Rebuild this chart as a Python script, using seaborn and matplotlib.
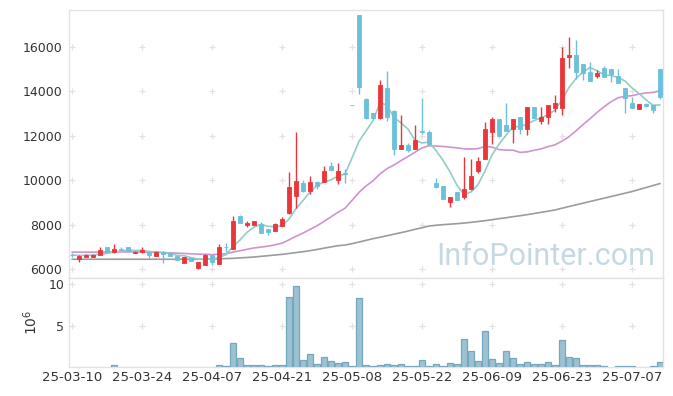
import numpy as np
import pandas as pd
import matplotlib
matplotlib.use("Agg")
import matplotlib.pyplot as plt
import seaborn as sns

# ---------------- data ----------------
tick_labels = ["25-03-10", "25-03-24", "25-04-07", "25-04-21", "25-05-08",
               "25-05-22", "25-06-09", "25-06-23", "25-07-07"]
tick_index = [0, 10, 20, 30, 40, 50, 60, 70, 80]

opens = [6645, 6440, 6545, 6545, 6636, 6985, 6788, 6880, 6985, 6742,
         6757, 6788, 6591, 6788, 6712, 6591, 6288, 6485, 6030, 6194,
         6627, 6239, 6995, 6896, 8373, 7985, 7985, 8030, 7791, 7716,
         7940, 8522, 9269, 9881, 9508, 9940, 9940, 10657, 10000, 10330,
         13390, 17439, 13674, 13039, 12782, 14173, 13130, 11421, 11588, 11421,
         12205, 12162, 9864, 9739, 9003, 9453, 9258, 9589, 10429, 10970,
         12186, 12757, 12486, 12321, 12832, 12321, 13297, 12682, 12832, 13267,
         13267, 15565, 15640, 15219, 14889, 14709, 15039, 15009, 14694, 14153,
         13492, 13222, 13417, 13387, 15009]
highs = [6720, 6620, 6680, 6680, 6970, 7000, 7136, 6985, 7000, 6800,
         6985, 6800, 6800, 6830, 6730, 6600, 6550, 6500, 6320, 6690,
         6640, 7105, 7164, 8403, 8450, 8180, 8160, 8130, 7800, 8090,
         8358, 10373, 12194, 10030, 10179, 9950, 10650, 10800, 10756, 10484,
         13390, 17439, 13690, 13050, 14536, 14899, 13150, 12933, 11690, 12480,
         13704, 12270, 10080, 9750, 9260, 9470, 11030, 10940, 11060, 12637,
         12850, 12770, 13492, 12770, 12850, 13310, 13310, 13300, 13400, 13823,
         15985, 16435, 16315, 15230, 15340, 14970, 15160, 15020, 14995, 14170,
         13763, 13430, 13490, 13400, 15020]
lows = [6560, 6330, 6520, 6520, 6620, 6780, 6700, 6790, 6800, 6730,
        6740, 6500, 6580, 6288, 6570, 6400, 6280, 6370, 6020, 6180,
        6194, 6230, 6776, 6880, 8060, 7880, 7970, 7610, 7552, 7700,
        7930, 8500, 8746, 9490, 9390, 9600, 9930, 10440, 9819, 9879,
        13390, 13900, 12770, 12770, 12770, 12650, 11119, 11400, 11250, 11400,
        12090, 11620, 9670, 9150, 8808, 9110, 9153, 9570, 10310, 10950,
        11630, 11960, 12220, 11660, 12066, 12030, 12800, 12520, 12531, 13087,
        12937, 15039, 14544, 14500, 14470, 14590, 14650, 14438, 14380, 13012,
        13250, 13200, 13280, 13012, 13658]
closes = [6630, 6590, 6636, 6636, 6864, 6788, 6909, 6864, 6818, 6788,
          6848, 6621, 6788, 6667, 6591, 6409, 6530, 6379, 6303, 6627,
          6328, 6985, 6985, 8149, 8075, 8075, 8149, 7627, 7672, 8015,
          8254, 9672, 9985, 9508, 9925, 9731, 10433, 10478, 10408, 10302,
          13390, 14188, 12782, 12782, 14309, 12827, 11421, 11588, 11376, 11814,
          12185, 11633, 9682, 9168, 9243, 9123, 9604, 10189, 10850, 12291,
          12757, 12006, 12231, 12757, 12321, 13297, 12817, 12862, 13387, 13492,
          15505, 15640, 14889, 14844, 14484, 14829, 14664, 14784, 14394, 13688,
          13267, 13417, 13342, 13177, 13763]
volumes_m = [0, 0, 0, 0, 0, 0, 0.28, 0, 0, 0,
             0, 0, 0, 0, 0, 0, 0, 0, 0, 0,
             0, 0.36, 0.24, 2.98, 1.19, 0.36, 0.36, 0.36, 0.24, 0.36,
             0.36, 8.45, 9.76, 0.95, 1.67, 0.48, 1.31, 0.83, 0.60, 0.71,
             0.24, 8.33, 0.36, 0.24, 0.36, 0.48, 0.36, 0.48, 0.24, 0.24,
             0.95, 0.24, 0.48, 0.24, 0.60, 0.48, 3.45, 2.02, 0.83, 4.40,
             1.07, 0.60, 2.02, 1.19, 0.48, 0.71, 0.48, 0.48, 0.71, 0.36,
             3.33, 1.35, 1.19, 0.36, 0.36, 0.36, 0.24, 0, 0.24, 0.24,
             0.24, 0, 0, 0.24, 0.71]
ma20_head = [6760, 6760, 6760, 6760, 6760, 6765, 6770, 6770, 6770, 6770,
             6765, 6760, 6750, 6740, 6730, 6715, 6700, 6685, 6670]
ma60 = [6440, 6440, 6440, 6440, 6440, 6440, 6440, 6440, 6440, 6440,
        6440, 6440, 6440, 6440, 6440, 6440, 6440, 6440, 6440, 6440,
        6445, 6460, 6470, 6480, 6500, 6520, 6540, 6570, 6600, 6630,
        6660, 6700, 6740, 6780, 6826, 6880, 6940, 6995, 7050, 7080,
        7140, 7216, 7290, 7366, 7430, 7500, 7570, 7637, 7710, 7787,
        7860, 7937, 7970, 7997, 8020, 8042, 8070, 8102, 8140, 8177,
        8220, 8267, 8310, 8357, 8400, 8447, 8500, 8553, 8605, 8658,
        8740, 8815, 8890, 8965, 9040, 9115, 9190, 9265, 9340, 9415,
        9490, 9580, 9670, 9760, 9850]

# ---------------- styling ----------------
UP = "#ea353b"
DOWN = "#6cc0d9"
MA5_C = "#93cdc5"
MA20_C = "#cf93cf"
MA60_C = "#9c9c9c"
SPINE = "#e3e3e3"
TXT = "#333333"

sns.set_theme(style="white")
plt.rcParams["font.family"] = ["DejaVu Sans"]

df = pd.DataFrame({"idx": np.arange(len(closes)), "open": opens, "high": highs,
                   "low": lows, "close": closes, "vol": volumes_m})
df["ma5"] = df["close"].rolling(5, min_periods=1).mean()
ma20 = df["close"].rolling(20).mean().to_numpy()
ma20[:len(ma20_head)] = ma20_head
df["ma20"] = ma20
df["ma60"] = ma60
df["up"] = df["close"] > df["open"]

W, H = 673, 396
fig = plt.figure(figsize=(W / 100, H / 100), dpi=100)
L, R = 69, 663
ax = fig.add_axes([L / W, (H - 278) / H, (R - L) / W, (278 - 10) / H])
axv = fig.add_axes([L / W, (H - 367) / H, (R - L) / W, (367 - 278) / H], sharex=ax)

xlim = (-0.43, len(closes) - 1 + 0.43)

# grid crosses
for a, yt in ((ax, [6000, 8000, 10000, 12000, 14000, 16000]), (axv, [5, 10])):
    gx, gy = np.meshgrid(tick_index, yt)
    a.plot(gx.ravel(), gy.ravel(), linestyle="none", marker="+", ms=5,
           mew=0.9, color="#e2e2e2", zorder=0)

# moving averages
sns.lineplot(data=df, x="idx", y="ma60", ax=ax, color=MA60_C, lw=1.2, zorder=2)
sns.lineplot(data=df, x="idx", y="ma20", ax=ax, color=MA20_C, lw=1.2, zorder=2)
sns.lineplot(data=df, x="idx", y="ma5", ax=ax, color=MA5_C, lw=1.2, zorder=2)

# candles
colors = np.where(df["up"], UP, DOWN)
ax.vlines(df["idx"], df["low"], df["high"], colors=colors, lw=1.0, zorder=3)
bottoms = np.minimum(df["open"], df["close"])
heights = (df["open"] - df["close"]).abs()
ax.bar(df["idx"], heights, bottom=bottoms, width=0.62, color=colors,
       edgecolor=colors, linewidth=0.6, zorder=4)

ax.set_ylim(5595, 17668)
ax.set_xlim(*xlim)
ax.set_yticks([6000, 8000, 10000, 12000, 14000, 16000])
ax.tick_params(axis="y", labelsize=9, colors=TXT, length=0, pad=5)
ax.tick_params(axis="x", labelbottom=False, length=0)
ax.set_xlabel("")
ax.set_ylabel("")

ax.text(0.987, 0.025, "InfoPointer.com", transform=ax.transAxes, ha="right",
        va="bottom", fontsize=22, color="#c6d9e3", family="Roboto", zorder=1)

# volume
sns.barplot(data=df, x="idx", y="vol", ax=axv, native_scale=True, width=0.92,
            color="#9cc1d2", saturation=1, edgecolor="#75a8bf", linewidth=0.9,
            zorder=3)
axv.set_xlim(*xlim)
axv.set_ylim(0.1, 10.75)
axv.set_yticks([5, 10])
axv.set_xticks(tick_index)
axv.set_xticklabels(tick_labels)
axv.tick_params(axis="both", labelsize=9, colors=TXT, length=0)
axv.tick_params(axis="x", labelsize=9.5, pad=3)
axv.set_xlabel("")
axv.set_ylabel(r"$10^6$", fontsize=10, color=TXT, labelpad=6)

for a in (ax, axv):
    for s in a.spines.values():
        s.set_color(SPINE)
        s.set_linewidth(1.0)
    a.grid(False)

fig.savefig("out.png", dpi=100)
